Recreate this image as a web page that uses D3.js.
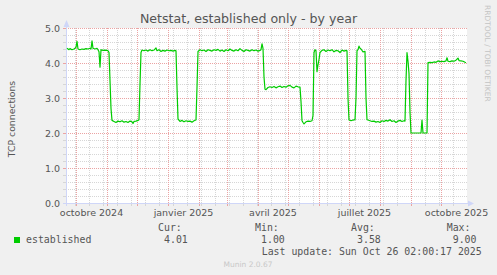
<!DOCTYPE html>
<html>
<head>
<meta charset="utf-8">
<script src="https://cdn.jsdelivr.net/npm/d3@7"></script>
<style>
  body { margin: 0; background: #f0f0f0; }
  svg { display: block; }
</style>
</head>
<body>
<div class="netstat-year"></div>
<script>
// netstat "established" over the last 400 days (daily averages)
const days = [
  '2024-09-22','2024-09-23','2024-09-24','2024-09-25','2024-09-27','2024-09-29','2024-09-30','2024-10-01','2024-10-02','2024-10-03',
  '2024-10-05','2024-10-07','2024-10-09','2024-10-11','2024-10-13','2024-10-15','2024-10-16','2024-10-17','2024-10-18','2024-10-20',
  '2024-10-22','2024-10-23','2024-10-24','2024-10-25','2024-10-26','2024-10-28','2024-10-30','2024-11-01','2024-11-02','2024-11-03',
  '2024-11-04','2024-11-05','2024-11-06','2024-11-08','2024-11-10','2024-11-12','2024-11-14','2024-11-16','2024-11-18','2024-11-20',
  '2024-11-22','2024-11-24','2024-11-26','2024-11-27','2024-11-28','2024-11-30','2024-12-02','2024-12-03','2024-12-04','2024-12-05',
  '2024-12-06','2024-12-08','2024-12-10','2024-12-12','2024-12-14','2024-12-16','2024-12-18','2024-12-20','2024-12-21','2024-12-23',
  '2024-12-25','2024-12-27','2024-12-29','2024-12-31','2025-01-02','2025-01-04','2025-01-06','2025-01-08','2025-01-09','2025-01-10',
  '2025-01-11','2025-01-13','2025-01-15','2025-01-17','2025-01-19','2025-01-21','2025-01-23','2025-01-25','2025-01-27','2025-01-29',
  '2025-01-30','2025-01-31','2025-02-02','2025-02-04','2025-02-06','2025-02-08','2025-02-10','2025-02-12','2025-02-14','2025-02-16',
  '2025-02-18','2025-02-20','2025-02-22','2025-02-24','2025-02-26','2025-02-28','2025-03-02','2025-03-04','2025-03-06','2025-03-08',
  '2025-03-10','2025-03-12','2025-03-14','2025-03-16','2025-03-18','2025-03-20','2025-03-22','2025-03-24','2025-03-26','2025-03-28',
  '2025-03-30','2025-04-01','2025-04-03','2025-04-04','2025-04-05','2025-04-06','2025-04-07','2025-04-08','2025-04-09','2025-04-11',
  '2025-04-13','2025-04-15','2025-04-17','2025-04-19','2025-04-21','2025-04-23','2025-04-25','2025-04-27','2025-04-29','2025-05-01',
  '2025-05-03','2025-05-05','2025-05-07','2025-05-09','2025-05-11','2025-05-13','2025-05-14','2025-05-15','2025-05-16','2025-05-17',
  '2025-05-19','2025-05-21','2025-05-23','2025-05-25','2025-05-26','2025-05-27','2025-05-28','2025-05-29','2025-05-30','2025-05-31',
  '2025-06-01','2025-06-02','2025-06-04','2025-06-06','2025-06-08','2025-06-10','2025-06-12','2025-06-14','2025-06-16','2025-06-18',
  '2025-06-20','2025-06-22','2025-06-24','2025-06-26','2025-06-28','2025-06-29','2025-06-30','2025-07-01','2025-07-03','2025-07-05',
  '2025-07-07','2025-07-08','2025-07-09','2025-07-10','2025-07-11','2025-07-12','2025-07-13','2025-07-15','2025-07-17','2025-07-18',
  '2025-07-19','2025-07-20','2025-07-22','2025-07-24','2025-07-26','2025-07-28','2025-07-30','2025-08-01','2025-08-03','2025-08-05',
  '2025-08-07','2025-08-09','2025-08-11','2025-08-13','2025-08-15','2025-08-17','2025-08-19','2025-08-21','2025-08-23','2025-08-25',
  '2025-08-26','2025-08-27','2025-08-28','2025-08-29','2025-08-30','2025-08-31','2025-09-01','2025-09-03','2025-09-05','2025-09-07',
  '2025-09-09','2025-09-11','2025-09-12','2025-09-13','2025-09-15','2025-09-17','2025-09-18','2025-09-20','2025-09-22','2025-09-24',
  '2025-09-26','2025-09-28','2025-09-30','2025-10-02','2025-10-04','2025-10-06','2025-10-07','2025-10-08','2025-10-10','2025-10-12',
  '2025-10-14','2025-10-16','2025-10-18','2025-10-19','2025-10-21','2025-10-23','2025-10-25','2025-10-26'
];
const established = [
  4.42,4.40,4.38,4.41,4.38,4.40,4.42,4.45,4.62,4.40,
  4.38,4.40,4.39,4.41,4.40,4.42,4.40,4.63,4.42,4.40,
  4.42,4.38,4.32,3.88,4.38,4.36,4.37,4.36,4.35,4.30,
  3.50,2.70,2.36,2.33,2.30,2.34,2.32,2.35,2.31,2.33,
  2.30,2.34,2.32,2.27,2.33,2.34,2.36,2.38,3.40,4.30,
  4.37,4.35,4.37,4.34,4.38,4.35,4.37,4.43,4.35,4.38,
  4.33,4.36,4.34,4.37,4.35,4.36,4.34,4.36,4.35,3.30,
  2.40,2.33,2.36,2.32,2.35,2.33,2.34,2.31,2.35,2.37,
  3.30,4.33,4.38,4.35,4.37,4.33,4.38,4.36,4.34,4.38,
  4.36,4.39,4.34,4.37,4.33,4.38,4.35,4.40,4.36,4.34,
  4.38,4.35,4.41,4.36,4.33,4.38,4.36,4.34,4.38,4.35,
  4.37,4.34,4.36,4.38,4.55,4.42,3.60,3.25,3.24,3.30,
  3.32,3.30,3.33,3.29,3.32,3.34,3.30,3.33,3.31,3.35,
  3.36,3.31,3.29,3.34,3.32,3.31,2.90,2.35,2.30,2.26,
  2.32,2.34,2.33,2.35,2.50,4.30,4.38,4.35,3.75,3.95,
  4.10,4.30,4.36,4.38,4.33,4.37,4.35,4.38,4.32,4.36,
  4.35,4.30,4.37,4.34,4.36,4.35,3.00,2.37,2.35,2.37,
  2.38,3.00,4.35,4.38,4.48,4.42,4.40,4.32,4.33,3.00,
  2.38,2.37,2.35,2.33,2.34,2.31,2.33,2.30,2.35,2.33,
  2.36,2.34,2.38,2.33,2.35,2.30,2.34,2.36,2.33,2.35,
  2.34,3.50,4.30,4.05,3.70,2.60,2.00,2.00,2.00,2.00,
  2.00,2.00,2.37,2.00,2.00,2.00,4.01,4.02,4.01,4.03,
  4.02,4.06,4.04,4.05,4.04,4.06,4.15,4.05,4.04,4.06,
  4.05,4.08,4.14,4.07,4.06,4.05,4.02,4.01
];
const monthLabels = ['octobre 2024', 'janvier 2025', 'avril 2025', 'juillet 2025', 'octobre 2025'];
const labelMonths = ['2024-10-01', '2025-01-01', '2025-04-01', '2025-07-01', '2025-10-01'];
const yTicks = [0, 1, 2, 3, 4, 5];
const legendHeads = ['Cur:', 'Min:', 'Avg:', 'Max:'];
const legendValues = ['4.01', '1.00', '3.58', '9.00'];

const parse = d3.timeParse('%Y-%m-%d');
const data = days.map((d, i) => ({date: parse(d), value: established[i]}));

const width = 497, height = 275;
const gridGray = '#d6d6d6', gridRed = '#eba3a3', axisColor = '#cfd6f8', fontColor = '#555';

const svg = d3.select('.netstat-year')
  .append('svg')
  .attr('width', width)
  .attr('height', height)
  .style('font-family', '"DejaVu Sans", sans-serif');

svg.append('rect').attr('width', width).attr('height', height).attr('fill', '#f0f0f0');

const x = d3.scaleTime()
  .domain([parse('2024-09-21'), parse('2025-10-26')])
  .range([66, 466]);
const y = d3.scaleLinear()
  .domain([0, 5])
  .range([203, 28]);

// white canvas
svg.append('rect')
  .attr('x', 66).attr('y', 28)
  .attr('width', 401).attr('height', 175)
  .attr('fill', '#fff');

const grid = svg.append('g').attr('shape-rendering', 'crispEdges');

// horizontal grid: minor every 0.2, major every 1
const yMinor = d3.range(1, 25).map(i => i / 5).filter(v => Math.abs(v - Math.round(v)) > 1e-6);
grid.selectAll('.hminor').data(yMinor).enter().append('line')
  .attr('x1', 66).attr('x2', 467)
  .attr('y1', d => Math.round(y(d)) + 0.5).attr('y2', d => Math.round(y(d)) + 0.5)
  .attr('stroke', gridGray).attr('stroke-dasharray', '1,1');
grid.selectAll('.hminortick').data(yMinor).enter().append('line')
  .attr('x1', 63).attr('x2', 66)
  .attr('y1', d => Math.round(y(d)) + 0.5).attr('y2', d => Math.round(y(d)) + 0.5)
  .attr('stroke', gridGray);
grid.selectAll('.hmajor').data(yTicks.slice(1)).enter().append('line')
  .attr('x1', 66).attr('x2', 467)
  .attr('y1', d => Math.round(y(d)) + 0.5).attr('y2', d => Math.round(y(d)) + 0.5)
  .attr('stroke', gridRed).attr('stroke-dasharray', '1,1');
grid.selectAll('.hmajortick').data(yTicks).enter().append('line')
  .attr('x1', 63).attr('x2', 66)
  .attr('y1', d => Math.round(y(d)) + 0.5).attr('y2', d => Math.round(y(d)) + 0.5)
  .attr('stroke', gridRed);

// vertical grid: minor every second monday, major each month
const [t0, t1] = x.domain();
const weeks = d3.range(0, 400, 14).map(i => d3.timeDay.offset(parse('2024-09-30'), i)).filter(d => d < t1);
const months = d3.timeMonth.range(t0, t1);
grid.selectAll('.vminor').data(weeks).enter().append('line')
  .attr('x1', d => Math.round(x(d)) + 0.5).attr('x2', d => Math.round(x(d)) + 0.5)
  .attr('y1', 28).attr('y2', 203)
  .attr('stroke', gridGray).attr('stroke-dasharray', '1,1');
grid.selectAll('.vminortick').data(weeks).enter().append('line')
  .attr('x1', d => Math.round(x(d)) + 0.5).attr('x2', d => Math.round(x(d)) + 0.5)
  .attr('y1', 203).attr('y2', 206)
  .attr('stroke', gridGray);
grid.selectAll('.vmajor').data(months).enter().append('line')
  .attr('x1', d => Math.round(x(d)) + 0.5).attr('x2', d => Math.round(x(d)) + 0.5)
  .attr('y1', 28).attr('y2', 203)
  .attr('stroke', gridRed).attr('stroke-dasharray', '1,1');
grid.selectAll('.vmajortick').data(months).enter().append('line')
  .attr('x1', d => Math.round(x(d)) + 0.5).attr('x2', d => Math.round(x(d)) + 0.5)
  .attr('y1', 203).attr('y2', 206)
  .attr('stroke', gridRed);

// axes with arrows
grid.append('line').attr('x1', 66.5).attr('x2', 66.5).attr('y1', 26).attr('y2', 206).attr('stroke', axisColor);
grid.append('line').attr('x1', 63).attr('x2', 469).attr('y1', 203.5).attr('y2', 203.5).attr('stroke', axisColor);
svg.append('path').attr('d', 'M63.5,27 L69.5,27 L66.5,20 Z').attr('fill', axisColor);
svg.append('path').attr('d', 'M468,200.5 L468,206.5 L474,203.5 Z').attr('fill', axisColor);

// y tick labels
svg.selectAll('.ylab').data(yTicks).enter().append('text')
  .attr('x', 60).attr('y', d => y(d) + 3.5)
  .attr('text-anchor', 'end')
  .style('font-size', '9.5px').attr('fill', fontColor)
  .text(d => d.toFixed(1));

// x month labels, centred on their month
svg.selectAll('.xlab').data(labelMonths).enter().append('text')
  .attr('x', d => (x(parse(d)) + x(d3.timeMonth.offset(parse(d), 1))) / 2)
  .attr('y', 216)
  .attr('text-anchor', 'middle')
  .style('font-size', '9.5px').attr('fill', fontColor)
  .text((d, i) => monthLabels[i]);

// series
svg.append('path')
  .datum(data)
  .attr('fill', 'none')
  .attr('stroke', '#00cc00')
  .attr('stroke-width', 1.2)
  .attr('stroke-linejoin', 'round')
  .attr('d', d3.line().x(d => x(d.date)).y(d => y(d.value)));

// titles
svg.append('text')
  .attr('x', 248.5).attr('y', 23)
  .attr('text-anchor', 'middle')
  .style('font-size', '12.6px').attr('fill', fontColor)
  .text('Netstat, established only - by year');
svg.append('text')
  .attr('transform', 'translate(15,119) rotate(-90)')
  .attr('text-anchor', 'middle')
  .style('font-size', '9.3px').attr('fill', fontColor)
  .text('TCP connections');
svg.append('text')
  .attr('transform', 'translate(485,5) rotate(90)')
  .style('font-size', '7.5px').attr('fill', '#c4c4c4')
  .text('RRDTOOL / TOBI OETIKER');

// legend
const legend = svg.append('g')
  .style('font-family', '"DejaVu Sans Mono", monospace')
  .style('font-size', '9.9px')
  .attr('fill', fontColor);
legend.append('rect').attr('x', 14).attr('y', 237).attr('width', 6).attr('height', 6).attr('fill', '#00cc00');
legend.append('text').attr('x', 26).attr('y', 243).text('established');
const headX = [158, 255, 351, 446.7];
legend.selectAll('.head').data(legendHeads).enter().append('text')
  .attr('x', (d, i) => headX[i]).attr('y', 231).text(d => d);
legend.selectAll('.val').data(legendValues).enter().append('text')
  .attr('x', (d, i) => headX[i] + 6).attr('y', 243).text(d => d);
legend.append('text').attr('x', 261.7).attr('y', 255).text('Last update: Sun Oct 26 02:00:17 2025');

svg.append('text')
  .attr('x', 248).attr('y', 267)
  .attr('text-anchor', 'middle')
  .style('font-size', '7.5px').attr('fill', '#c8c8c8')
  .text('Munin 2.0.67');
</script>
</body>
</html>
